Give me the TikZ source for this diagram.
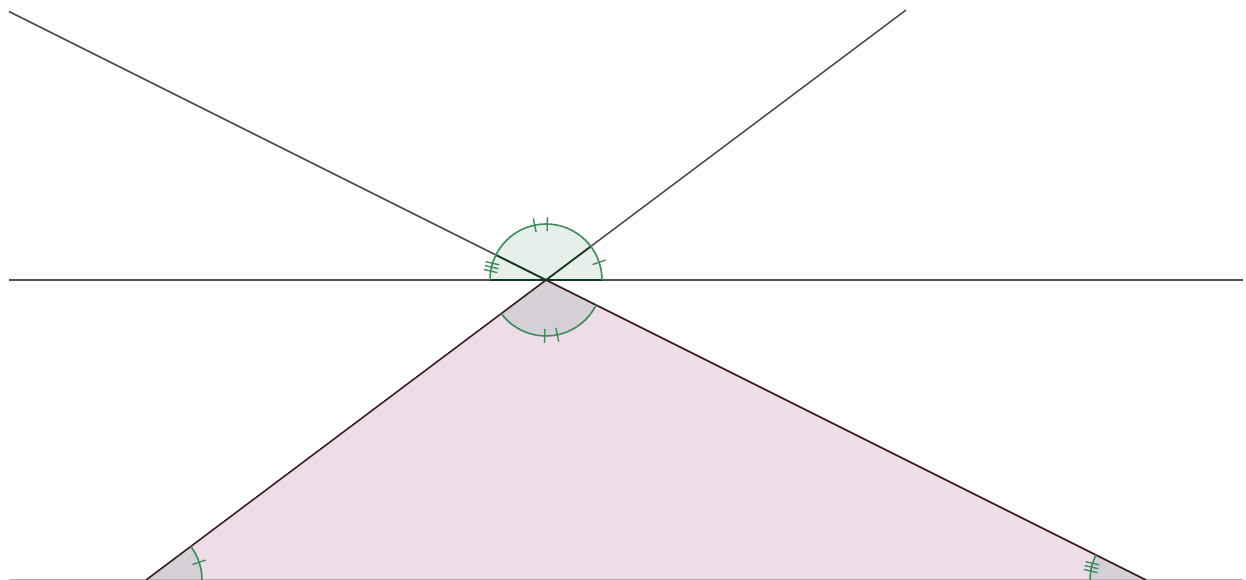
\documentclass[tikz,border=0pt]{standalone}
\usetikzlibrary{calc}
\definecolor{linegray}{HTML}{505050}
\definecolor{edgebrown}{HTML}{3A1E1E}
\definecolor{trifill}{HTML}{EDDDE8}
\definecolor{angfill}{HTML}{D5CFD6}
\definecolor{upfill}{HTML}{E6EFE9}
\definecolor{arcgreen}{HTML}{3E8C5E}
\definecolor{radgreen}{HTML}{123A20}
\tikzset{
  gline/.style={draw=linegray,line width=1.6pt},
  tedge/.style={draw=edgebrown,line width=1.6pt},
  arcline/.style={draw=arcgreen,line width=1.6pt},
  tick/.style={draw=arcgreen,line width=1.4pt},
}
\begin{document}
\begin{tikzpicture}[x=1pt,y=1pt]
\useasboundingbox (0,0) rectangle (1246,580);
\coordinate (A) at (546,300);
\coordinate (B) at (146,0);
\coordinate (C) at (1146,0);
\coordinate (P1) at ($(A)!-0.895!(C)$);
\coordinate (P2) at ($(A)!-0.9!(B)$);
\coordinate (H1) at (9,300);
\coordinate (H2) at (1243,300);
\coordinate (L1) at (9,0);
\coordinate (L2) at (1243,0);
\def\R{56}
\pgfmathsetmacro{\aone}{atan(0.75)}
\pgfmathsetmacro{\atwo}{180-atan(0.5)}
% triangle fill
\fill[trifill] (A) -- (B) -- (C) -- cycle;
% angle sectors in triangle
\fill[angfill] (A) -- ++(180+\aone:\R) arc[start angle=180+\aone,end angle=360-atan(0.5),radius=\R] -- cycle;
\fill[angfill] (B) -- ++(0:\R) arc[start angle=0,end angle=\aone,radius=\R] -- cycle;
\fill[angfill] (C) -- ++(\atwo:\R) arc[start angle=\atwo,end angle=180,radius=\R] -- cycle;
% upper semicircle
\fill[upfill] (A) -- ++(0:\R) arc[start angle=0,end angle=180,radius=\R] -- cycle;
% lines
\draw[gline] (H1) -- (H2);
\draw[draw=linegray!45,line width=1.6pt] (L1) -- (L2);
\draw[gline] (P1) -- (A);
\draw[gline] (P2) -- (A);
% triangle edges
\draw[tedge] (B) -- (A) -- (C);
% radii inside upper region
\draw[draw=radgreen,line width=1.6pt] ($(A)+(180:\R)$) -- ($(A)+(0:\R)$);
\draw[draw=radgreen,line width=1.6pt] (A) -- ++(\aone:\R);
\draw[draw=radgreen,line width=1.6pt] (A) -- ++(\atwo:\R);
% arcs
\draw[arcline] ($(A)+(0:\R)$) arc[start angle=0,end angle=180,radius=\R];
\draw[arcline] ($(A)+(180+\aone:\R)$) arc[start angle=180+\aone,end angle=360-atan(0.5),radius=\R];
\draw[arcline] ($(B)+(0:\R)$) arc[start angle=0,end angle=\aone,radius=\R];
\draw[arcline] ($(C)+(\atwo:\R)$) arc[start angle=\atwo,end angle=180,radius=\R];
% ticks
\pgfmathsetmacro{\mA}{\aone/2}
\pgfmathsetmacro{\mB}{(\aone+\atwo)/2}
\pgfmathsetmacro{\mC}{(\atwo+180)/2}
\pgfmathsetmacro{\mD}{(180+\aone+360-atan(0.5))/2}
% single ticks
\draw[tick] ($(A)+(\mA:\R-7)$) -- ($(A)+(\mA:\R+7)$);
\draw[tick] ($(B)+(\mA:\R-7)$) -- ($(B)+(\mA:\R+7)$);
% double ticks
\foreach \d in {-6.5,6.5}{
  \draw[tick] ($(A)+(\mB+\d:\R-7)$) -- ($(A)+(\mB+\d:\R+7)$);
  \draw[tick] ($(A)+(\mD+\d:\R-7)$) -- ($(A)+(\mD+\d:\R+7)$);
}
% triple ticks
\foreach \d in {-4,0,4}{
  \draw[tick] ($(A)+(\mC:\R-7)+(\mC+90:\d)$) -- ($(A)+(\mC:\R+7)+(\mC+90:\d)$);
  \draw[tick] ($(C)+(\mC:\R-7)+(\mC+90:\d)$) -- ($(C)+(\mC:\R+7)+(\mC+90:\d)$);
}
\end{tikzpicture}
\end{document}
